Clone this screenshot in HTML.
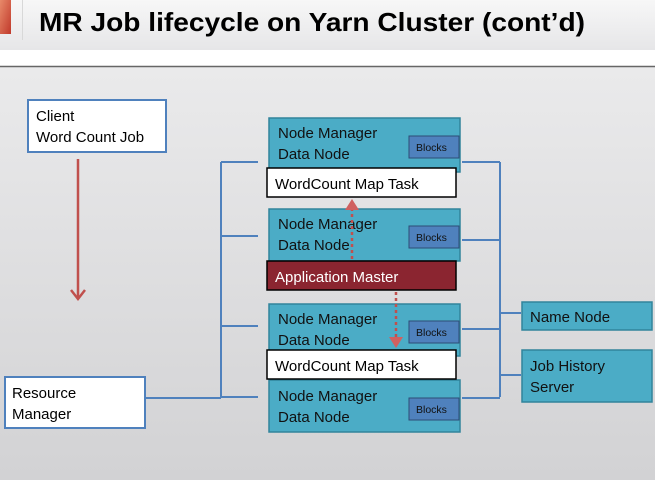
<!DOCTYPE html>
<html><head><meta charset="utf-8"><style>
html,body{margin:0;padding:0;width:655px;height:480px;overflow:hidden}
body{font-family:"Liberation Sans",sans-serif}
</style></head><body>
<svg width="655" height="480" xmlns="http://www.w3.org/2000/svg" font-family="Liberation Sans, sans-serif">
<defs>
<linearGradient id="bg" x1="0" y1="0" x2="0" y2="1"><stop offset="0" stop-color="#eeeeef"/><stop offset="1" stop-color="#d2d2d4"/></linearGradient>
<linearGradient id="hd" x1="0" y1="0" x2="0" y2="1"><stop offset="0" stop-color="#f7f7f7"/><stop offset="1" stop-color="#e6e6e8"/></linearGradient>
<linearGradient id="lg" x1="0" y1="0" x2="1" y2="1"><stop offset="0" stop-color="#e88a6a"/><stop offset="1" stop-color="#c0392b"/></linearGradient>
</defs>
<rect width="655" height="480" fill="url(#bg)"/>
<rect width="655" height="50" fill="url(#hd)"/>
<rect x="0" y="50" width="655" height="16" fill="#fff"/>
<line x1="0" y1="66.5" x2="655" y2="66.5" stroke="#666" stroke-width="1.5"/>
<rect x="0" y="0" width="11" height="34" fill="url(#lg)"/>
<line x1="22.5" y1="0" x2="22.5" y2="40" stroke="#d8d8d8"/>
<text x="39" y="31" font-size="26" font-weight="bold" fill="#000" textLength="546" lengthAdjust="spacingAndGlyphs">MR Job lifecycle on Yarn Cluster (cont’d)</text>

<g fill="none" stroke="#4f81bd" stroke-width="2">
<path d="M221 162V397M221 162H258M221 236H258M221 326H258M221 397H258M146 398H221"/>
<path d="M500 162V397M462 162H500M462 240H500M462 329H500M462 398H500M500 313H521M500 375H521"/>
</g>

<rect x="28" y="100" width="138" height="52" fill="#fff" stroke="#4f81bd" stroke-width="2"/>
<text x="36" y="121" font-size="15">Client</text>
<text x="36" y="142" font-size="15">Word Count Job</text>
<line x1="78" y1="159" x2="78" y2="297" stroke="#c0504d" stroke-width="2.5"/>
<path d="M71 290L78 299L85 290" fill="none" stroke="#c0504d" stroke-width="2.5"/>

<rect x="5" y="377" width="140" height="51" fill="#fff" stroke="#4f81bd" stroke-width="2"/>
<text x="12" y="398" font-size="15">Resource</text>
<text x="12" y="419" font-size="15">Manager</text>

<g stroke="#31849b" stroke-width="1.5" fill="#4bacc6">
<rect x="269" y="118" width="191" height="54"/>
<rect x="269" y="209" width="191" height="52"/>
<rect x="269" y="304" width="191" height="52"/>
<rect x="269" y="380" width="191" height="52"/>
</g>
<g fill="#4f81bd" stroke="#2c4d75" stroke-width="1">
<rect x="409" y="136" width="50" height="22"/>
<rect x="409" y="226" width="50" height="22"/>
<rect x="409" y="321" width="50" height="22"/>
<rect x="409" y="398" width="50" height="22"/>
</g>
<g font-size="10.5" fill="#111"><text x="416" y="151">Blocks</text><text x="416" y="241">Blocks</text><text x="416" y="336">Blocks</text><text x="416" y="413">Blocks</text></g>
<g font-size="15" fill="#111">
<text x="278" y="138">Node Manager</text><text x="278" y="159">Data Node</text>
<text x="278" y="229">Node Manager</text><text x="278" y="250">Data Node</text>
<text x="278" y="324">Node Manager</text><text x="278" y="345">Data Node</text>
<text x="278" y="401">Node Manager</text><text x="278" y="422">Data Node</text>
</g>
<rect x="267" y="168" width="189" height="29" fill="#fff" stroke="#000" stroke-width="1.5"/>
<text x="275" y="189" font-size="15">WordCount Map Task</text>
<rect x="267" y="261" width="189" height="29" fill="#8b2530" stroke="#000" stroke-width="1.5"/>
<text x="275" y="282" font-size="15" fill="#fff">Application Master</text>
<rect x="267" y="350" width="189" height="29" fill="#fff" stroke="#000" stroke-width="1.5"/>
<text x="275" y="371" font-size="15">WordCount Map Task</text>

<g stroke="#c0504d" stroke-width="2.5" fill="none">
<line x1="352" y1="259" x2="352" y2="206" stroke-dasharray="3 3"/>
<line x1="396" y1="292" x2="396" y2="341" stroke-dasharray="3 3"/>
</g>
<path d="M345 210L352 199L359 210Z" fill="#d06060"/>
<path d="M389 337L396 348L403 337Z" fill="#d06060"/>

<g fill="#4bacc6" stroke="#31849b" stroke-width="1.5">
<rect x="522" y="302" width="130" height="28"/>
<rect x="522" y="350" width="130" height="52"/>
</g>
<g font-size="15" fill="#111">
<text x="530" y="322">Name Node</text>
<text x="530" y="371">Job History</text>
<text x="530" y="392">Server</text>
</g>
</svg>
</body></html>
